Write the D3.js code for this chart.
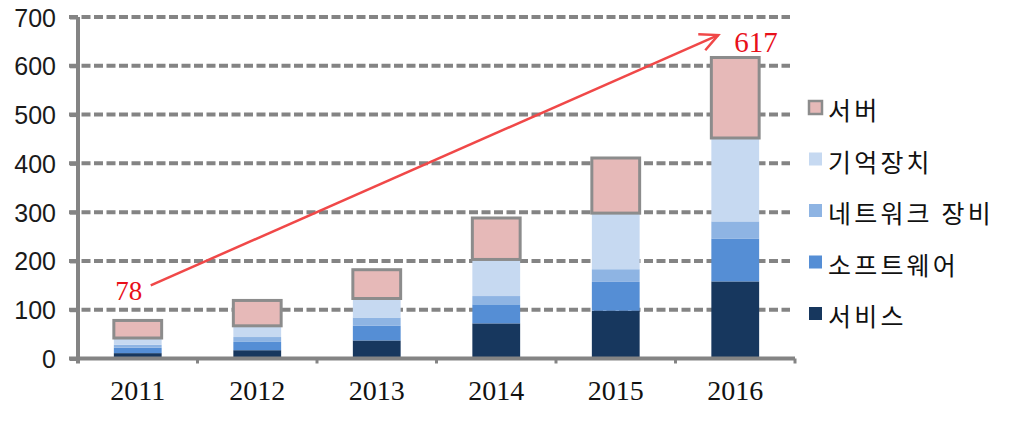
<!DOCTYPE html>
<html>
<head>
<meta charset="utf-8">
<script src="https://cdn.jsdelivr.net/npm/d3@7"></script>
<style>
  html, body { margin: 0; padding: 0; background: #fff; }
  svg { display: block; }
</style>
</head>
<body>
<svg id="chart" width="1023" height="430"></svg>
<script>
const years = ["2011", "2012", "2013", "2014", "2015", "2016"];
const seriesNames = ["서비스", "소프트웨어", "네트워크 장비", "기억장치", "서버"];
const service  = [11, 17, 37, 72, 98, 158];
const software = [11, 17, 30, 39, 59, 88];
const network  = [6, 10, 17, 17, 26, 35];
const storage  = [14, 23, 39, 75, 115, 171];
const server   = [36, 52, 59, 85, 113, 165];
const yTicks = [0, 100, 200, 300, 400, 500, 600, 700];
const labelFirst = "78";
const labelLast = "617";
const colors = ["#17375e", "#558ed5", "#8eb4e3", "#c6d9f1", "#e6b9b8"];

const seriesValues = [service, software, network, storage, server];
const rows = years.map((yr, i) => {
  const r = { year: yr };
  seriesNames.forEach((s, j) => r[s] = seriesValues[j][i]);
  return r;
});

(function draw() {
const svg = d3.select("#chart");
const pl = 78, pr = 795, pt = 17, pb = 358.5;

const x = d3.scaleBand().domain(years).range([pl, pr]).paddingInner(0.6).paddingOuter(0.3);
const xOuter = d3.scaleBand().domain(years).range([pl, pr]);
const y = d3.scaleLinear().domain([0, 700]).range([pb, pt]);

// grid
svg.append("g").selectAll("line").data(yTicks.filter(d => d > 0)).join("line")
  .attr("x1", 69).attr("x2", 790)
  .attr("y1", d => y(d)).attr("y2", d => y(d))
  .attr("stroke", "#848484").attr("stroke-width", 4)
  .attr("stroke-dasharray", "9,3.5");

// y axis
const yAxis = d3.axisLeft(y).tickValues(yTicks).tickSize(8).tickPadding(14);
const gy = svg.append("g").attr("transform", `translate(${pl},0)`).call(yAxis);
gy.select(".domain").remove();
gy.selectAll(".tick line").attr("stroke", "#848484").attr("stroke-width", 4);
gy.selectAll(".tick text").attr("font-family", "'Liberation Sans', Arial, sans-serif")
  .attr("font-size", 25).attr("fill", "#1a1a1a").attr("dy", "0.36em");

// stacked bars
const stack = d3.stack().keys(seriesNames);
const layers = stack(rows);
svg.append("g").selectAll("g").data(layers).join("g")
  .attr("fill", (d, i) => colors[i])
  .selectAll("rect").data(d => d).join("rect")
  .attr("x", d => x(d.data.year))
  .attr("width", x.bandwidth())
  .attr("y", d => y(d[1]))
  .attr("height", d => y(d[0]) - y(d[1]));

// server border
svg.append("g").selectAll("rect").data(layers[4]).join("rect")
  .attr("x", d => x(d.data.year))
  .attr("width", x.bandwidth())
  .attr("y", d => y(d[1]))
  .attr("height", d => y(d[0]) - y(d[1]))
  .attr("fill", "none").attr("stroke", "#8c8c8c").attr("stroke-width", 3);

// axis lines
svg.append("line").attr("x1", pl).attr("x2", pl).attr("y1", pt).attr("y2", pb + 5)
  .attr("stroke", "#848484").attr("stroke-width", 4);
const xAxis = d3.axisBottom(x).tickSize(0).tickPadding(22);
const gx = svg.append("g").attr("transform", `translate(0,${pb})`).call(xAxis);
gx.select(".domain").remove();
gx.selectAll(".tick text").attr("font-family", "'Liberation Serif', 'Times New Roman', serif")
  .attr("font-size", 28).attr("fill", "#111").attr("dy", "0.71em");
svg.append("line").attr("x1", 69).attr("x2", pr).attr("y1", pb).attr("y2", pb)
  .attr("stroke", "#848484").attr("stroke-width", 4);
svg.append("g").selectAll("line").data(years).join("line")
  .attr("x1", d => xOuter(d) + xOuter.bandwidth()).attr("x2", d => xOuter(d) + xOuter.bandwidth())
  .attr("y1", pb).attr("y2", pb + 5)
  .attr("stroke", "#848484").attr("stroke-width", 3);

// arrow
const xc = yr => x(yr) + x.bandwidth() / 2;
const ax1 = xc(years[0]) + 13, ay1 = y(150);
const ax2 = xc(years[5]) - 17, ay2 = y(663);
const red = "#f04848";
svg.append("line").attr("x1", ax1).attr("y1", ay1).attr("x2", ax2).attr("y2", ay2)
  .attr("stroke", red).attr("stroke-width", 2.5);
const ang = Math.atan2(ay2 - ay1, ax2 - ax1);
const hl = 20, ha = 0.45;
const head = [
  [ax2 - hl * Math.cos(ang - ha), ay2 - hl * Math.sin(ang - ha)],
  [ax2, ay2],
  [ax2 - hl * Math.cos(ang + ha), ay2 - hl * Math.sin(ang + ha)]
];
svg.append("path").attr("d", d3.line()(head)).attr("fill", "none")
  .attr("stroke", red).attr("stroke-width", 2.5);

svg.append("text").attr("x", xc(years[0]) - 9).attr("y", 300)
  .attr("text-anchor", "middle")
  .attr("font-family", "'Liberation Serif', serif").attr("font-size", 27)
  .attr("fill", "#e8101a").text(labelFirst);
svg.append("text").attr("x", 756).attr("y", 52)
  .attr("text-anchor", "middle")
  .attr("font-family", "'Liberation Serif', serif").attr("font-size", 29)
  .attr("fill", "#e8101a").text(labelLast);

// legend
const legendOrder = [4, 3, 2, 1, 0];
const lg = svg.append("g").selectAll("g").data(legendOrder).join("g")
  .attr("transform", (d, i) => `translate(809,${107.5 + i * 51.5})`);
lg.append("rect").attr("x", 0).attr("y", -6.5).attr("width", 13).attr("height", 13)
  .attr("fill", d => colors[d])
  .attr("stroke", d => d === 4 ? "#8c8c8c" : "none").attr("stroke-width", 2.5);
lg.append("text").attr("x", 19).attr("y", 4).attr("dy", "0.35em")
  .attr("font-family", "'Noto Sans CJK KR', sans-serif").attr("font-size", 25)
  .attr("letter-spacing", 3.2).attr("fill", "#111")
  .text(d => seriesNames[d]);
})();
</script>
</body>
</html>
